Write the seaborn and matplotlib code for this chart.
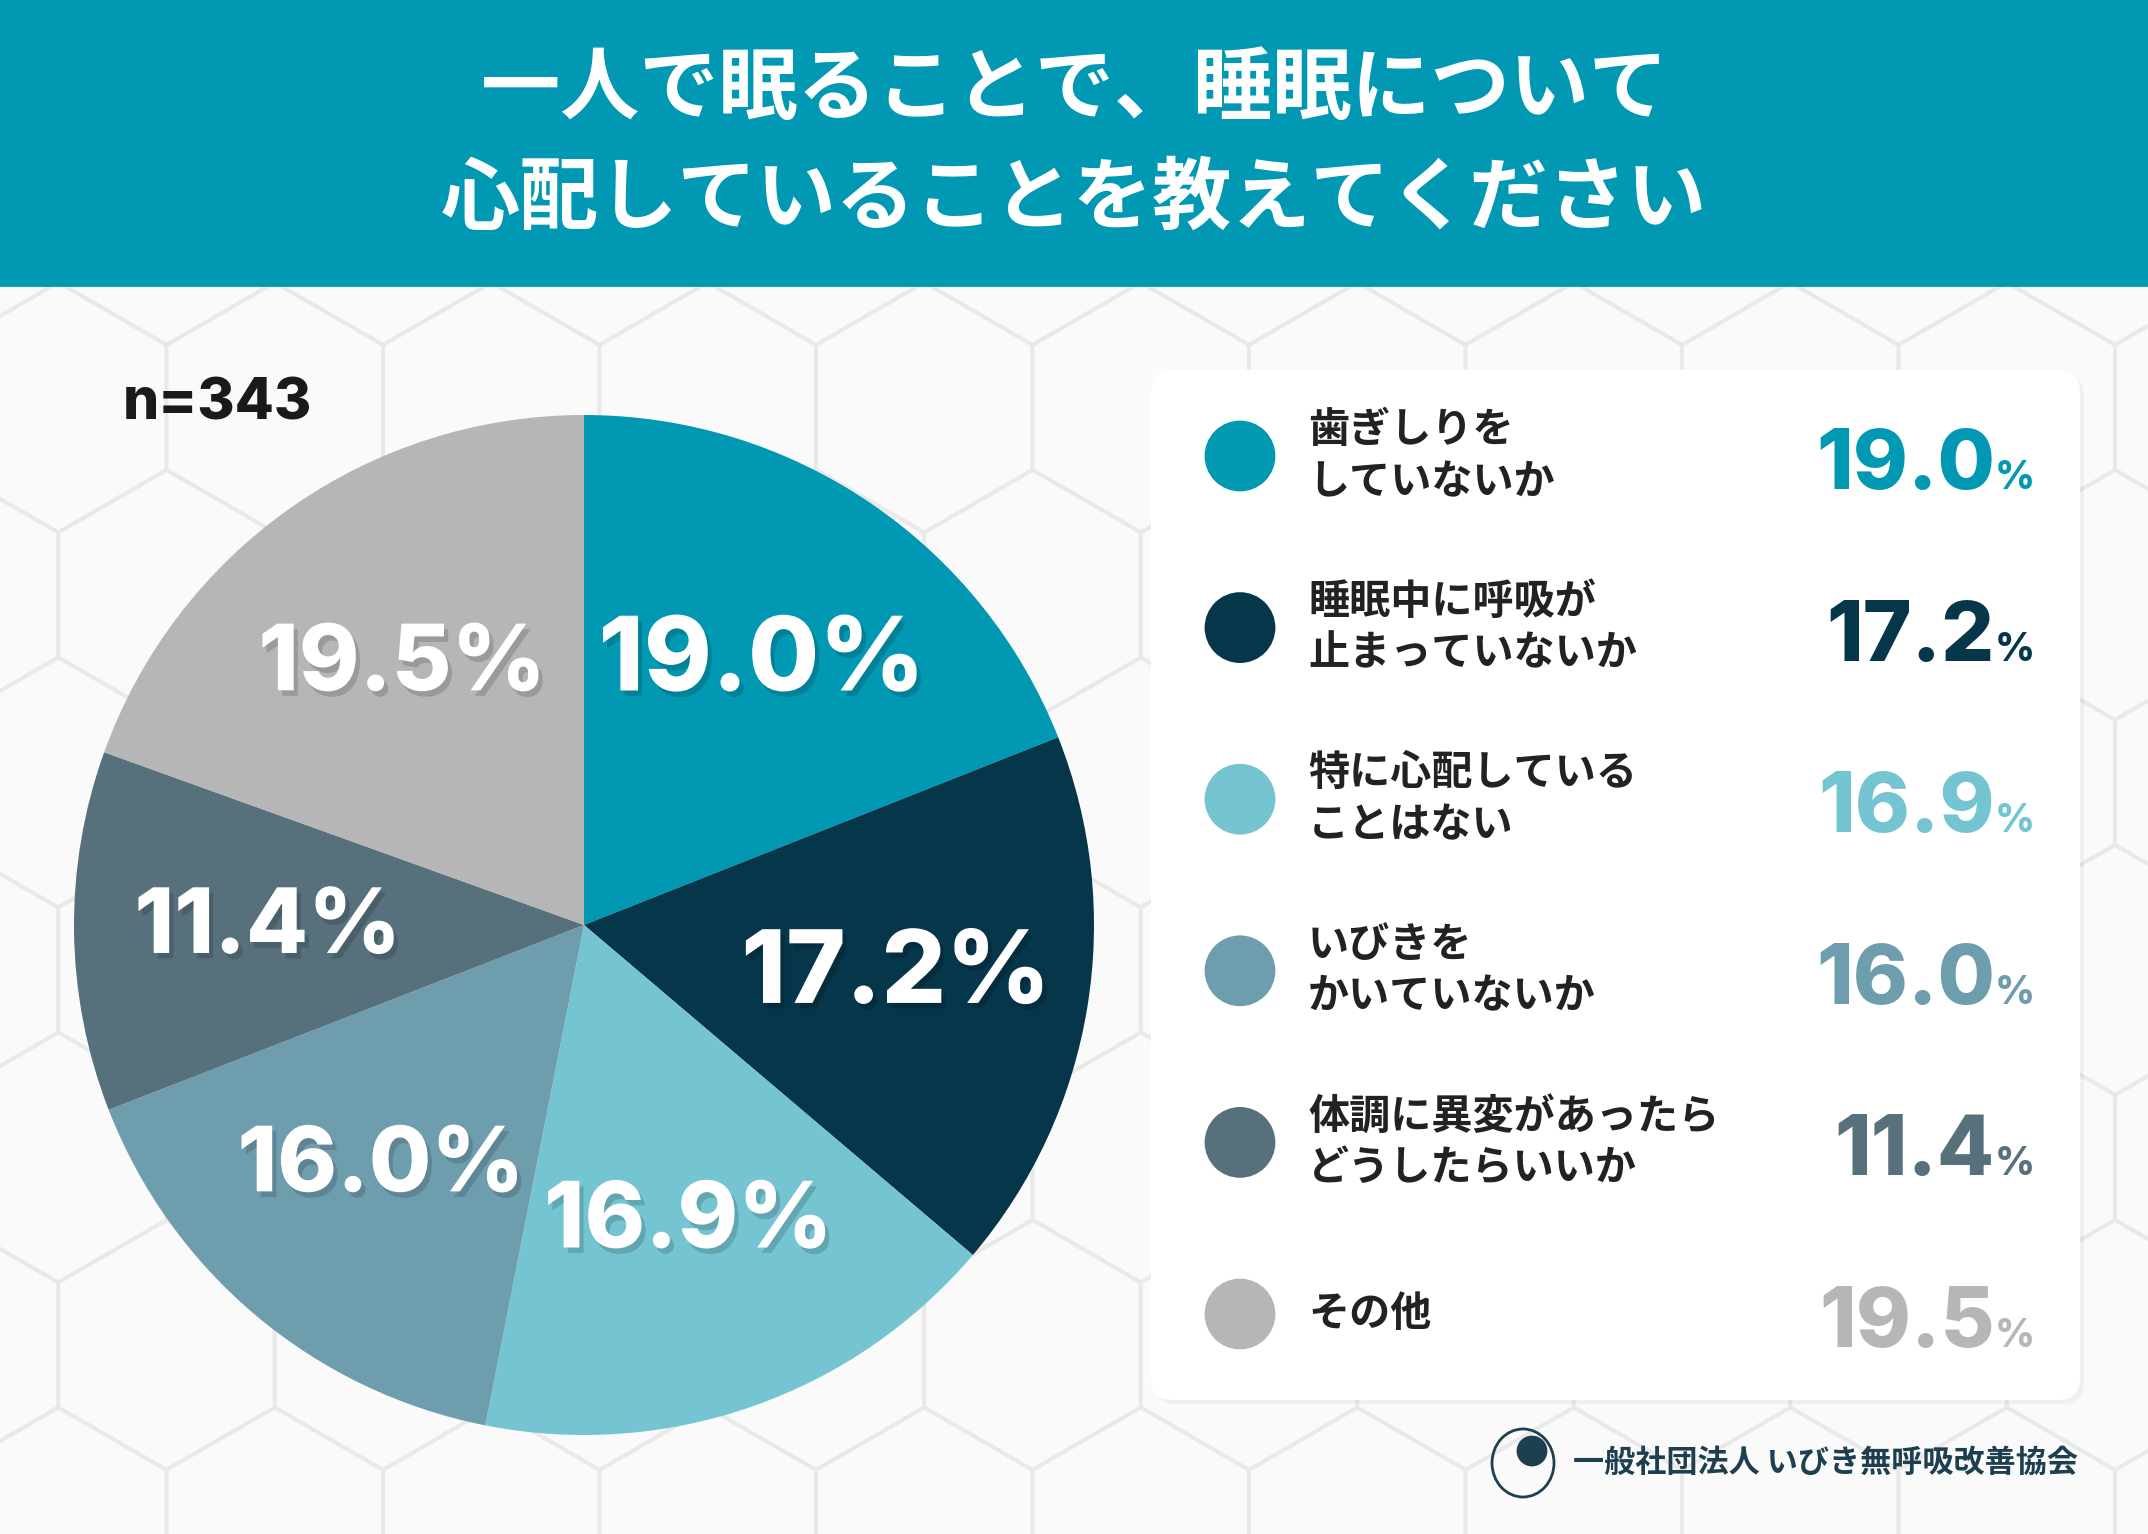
import numpy as np
import matplotlib
matplotlib.use("Agg")
import matplotlib.pyplot as plt
import matplotlib.patheffects as pe
from matplotlib.patches import FancyBboxPatch, Circle, RegularPolygon, Rectangle, Ellipse
import seaborn as sns

# data
title_lines = ["一人で眠ることで、睡眠について", "心配していることを教えてください"]
categories = ["歯ぎしりを\nしていないか",
              "睡眠中に呼吸が\n止まっていないか",
              "特に心配している\nことはない",
              "いびきを\nかいていないか",
              "体調に異変があったら\nどうしたらいいか",
              "その他"]
shares = [19.0, 17.2, 16.9, 16.0, 11.4, 19.5]
sample_note = "n=343"
org_name = "一般社団法人 いびき無呼吸改善協会"

palette = sns.color_palette(["#0098B2", "#05364A", "#74C4D2", "#6E9DAD", "#56707C", "#B6B6B6"])
pct_sizes = [37, 36.5, 33, 32.5, 32.5, 33]

sns.set_theme(style="white")
plt.rcParams["font.family"] = ["Noto Sans CJK JP", "DejaVu Sans"]
num_font = ["Inter", "DejaVu Sans"]

W, H = 2148, 1534
fig = plt.figure(figsize=(W / 200, H / 200), dpi=200)
fig.patch.set_facecolor("#f6f6f6")
bg = fig.add_axes([0, 0, 1, 1])
bg.set_xlim(0, W)
bg.set_ylim(H, 0)
bg.axis("off")

# hexagon tiles in the background
R = 125
wcol = R * np.sqrt(3)
for row in range(-1, 11):
    y = 220 + row * 1.5 * R
    off = (row % 2) * wcol / 2
    for col in range(-1, 13):
        x = -50 + col * wcol + off
        bg.add_patch(RegularPolygon((x, y), 6, radius=R, orientation=0,
                                    facecolor="#fafafa", edgecolor="#e9e9e9",
                                    lw=1.4, zorder=0))

# header
bg.add_patch(Rectangle((0, 0), W, 285, color="#0098B2", zorder=2))
bg.text(W / 2, 89, title_lines[0], ha="center", va="center", fontsize=28.5,
        fontweight="bold", color="white", zorder=3)
bg.text(W / 2, 199, title_lines[1], ha="center", va="center", fontsize=28.5,
        fontweight="bold", color="white", zorder=3)

bg.text(123, 404, sample_note, ha="left", va="center", fontsize=20.5,
        fontweight="heavy", family=num_font, color="#1a1a1a", zorder=3)

# pie
cx, cy, pr = 584, 925, 510
pax = fig.add_axes([(cx - pr) / W, 1 - (cy + pr) / H, 2 * pr / W, 2 * pr / H])
wedges, texts, autotexts = pax.pie(
    shares, colors=palette, startangle=90, counterclock=False, radius=1,
    autopct="%.1f%%", pctdistance=0.62, wedgeprops=dict(linewidth=0),
    textprops=dict(color="white", fontweight="heavy", family=num_font))
for t, s in zip(autotexts, pct_sizes):
    t.set_fontsize(s)
    t.set_path_effects([pe.SimplePatchShadow(offset=(1.5, -2), alpha=0.15, shadow_rgbFace="black"),
                        pe.Normal()])
pax.set_xlim(-1, 1)
pax.set_ylim(-1, 1)
pax.set_aspect("equal")
pax.axis("off")

# legend card
bg.add_patch(FancyBboxPatch((1155, 374), 929, 1030, boxstyle="round,pad=0,rounding_size=22",
                            fc="#000000", ec="none", alpha=0.04, zorder=2))
bg.add_patch(FancyBboxPatch((1151, 370), 929, 1030, boxstyle="round,pad=0,rounding_size=22",
                            fc="white", ec="none", zorder=3))

r = fig.canvas.get_renderer()
for i, (lab, v) in enumerate(zip(categories, shares)):
    y = 456 + i * 171.6
    col = palette[i]
    bg.add_patch(Circle((1240, y), 34, color=col, zorder=4))
    lines = lab.split("\n")
    if len(lines) == 1:
        bg.text(1308, y, lines[0], ha="left", va="center", fontsize=14.8,
                fontweight="bold", color="#222222", zorder=4)
    else:
        for k, ln in enumerate(lines):
            bg.text(1308, y - 26 + 52 * k, ln, ha="left", va="center", fontsize=14.8,
                    fontweight="bold", color="#222222", zorder=4)
    pt = bg.text(2035, y + 33, "%", ha="right", va="baseline", fontsize=14,
                 fontweight="heavy", family=num_font, color=col, zorder=4)
    pw = pt.get_window_extent(r).width
    bg.text(2035 - pw, y + 33, f"{v:.1f}", ha="right", va="baseline", fontsize=30,
            fontweight="heavy", family=num_font, color=col, zorder=4)

# footer logo
bg.add_patch(Ellipse((1523, 1463), 62, 68, fill=False, ec="#1d3f4f", lw=1, zorder=4))
bg.add_patch(Circle((1532, 1451), 14, color="#1d3f4f", zorder=4))
bg.text(1573, 1463, org_name, ha="left", va="center", fontsize=11.2,
        fontweight="bold", color="#1d3f4f", zorder=4)

fig.savefig("out.png", dpi=200)
